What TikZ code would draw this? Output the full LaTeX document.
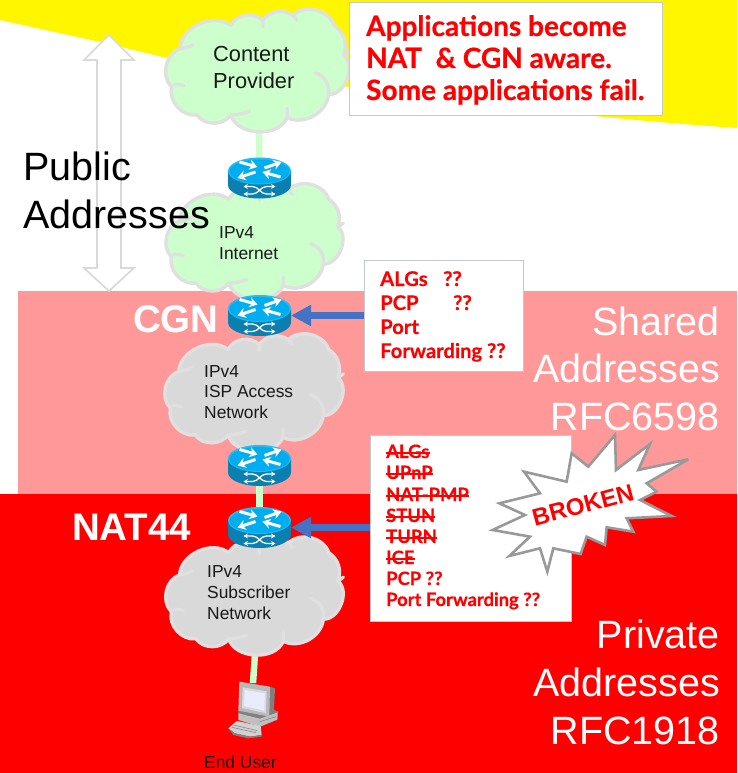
\documentclass[tikz,border=0pt]{standalone}
\usepackage{fontspec}
\setmainfont{Liberation Sans}
\newfontfamily\gill{Lato Bold}[FakeBold=0.6]
\usetikzlibrary{arrows.meta}
\definecolor{pinkband}{HTML}{FF9999}
\definecolor{redband}{HTML}{FF0000}
\definecolor{sunny}{HTML}{FFF600}
\definecolor{cloudgreen}{HTML}{CCFFCC}
\definecolor{cloudgrey}{HTML}{D9D9D9}
\definecolor{cloudedge}{HTML}{E0E0E0}
\definecolor{boxedge}{HTML}{C4C8CC}
\definecolor{arrowblue}{HTML}{4472C4}
\definecolor{routertop}{HTML}{00AEEF}
\definecolor{routerside}{HTML}{0A7FB0}
\tikzset{
  big/.style={font=\fontsize{39.5}{39.5}\selectfont,anchor=base west,inner sep=0pt},
  bigw/.style={font=\fontsize{39.5}{39.5}\selectfont,anchor=base east,inner sep=0pt,text=white},
  bold38/.style={font=\fontsize{38.5}{38.5}\selectfont\bfseries,anchor=base west,inner sep=0pt,text=white},
  lab/.style={font=\fontsize{17.4}{17.4}\selectfont,anchor=base west,inner sep=0pt,text=black!90},
  labbig/.style={font=\fontsize{21.8}{21.8}\selectfont,anchor=base west,inner sep=0pt,text=black!90},
  headtxt/.style={font=\gill\fontsize{28}{28}\selectfont,anchor=base west,inner sep=0pt,text=red},
  algtxt/.style={font=\gill\fontsize{20.2}{20.2}\selectfont,anchor=base west,inner sep=0pt,text=red},
  brktxt/.style={font=\gill\fontsize{18.4}{18.4}\selectfont,anchor=base west,inner sep=0pt,text=red},
  whitebox/.style={draw=boxedge,fill=white,line width=1.3pt},
  link/.style={cloudgreen,line width=6.5pt},
  pointer/.style={arrowblue,line width=6.5pt,-{Triangle[length=20pt,width=20pt]},shorten >=0pt},
  strike/.style={red,line width=1.2pt}
}
% cloud: left, top, width, height, fill
\newcommand{\mycloud}[5]{%
\begin{scope}[shift={(#1,#2)},x=#3pt,y=-#4pt]
 \draw[fill=#5,draw=cloudedge,line width=3.4pt,line join=round]
   (.08,.34) to[bend left=62] (.35,.16) to[bend left=55] (.52,.12) to[bend left=45] (.68,.08)
   to[bend left=58] (.90,.16) to[bend left=38] (.95,.39) to[bend left=72] (.87,.70)
   to[bend left=55] (.65,.88) to[bend left=70] (.35,.86) to[bend left=55] (.17,.86)
   to[bend left=55] (.035,.64) to[bend left=58] cycle;
 \draw[draw=cloudedge,line width=3.4pt,line cap=round]
   (.08,.34) to[bend right=10] (.15,.31)
   (.05,.62) to[bend left=10] (.10,.63)
   (.80,.53) to[bend left=40] (.87,.70)
   (.35,.86) to[bend right=8] (.45,.83)
   (.65,.88) -- (.65,.81)
   (.52,.12) -- (.52,.17)
   (.68,.08) -- (.70,.12)
   (.95,.39) -- (.98,.36);
\end{scope}}
% router centred on a named coordinate
\newcommand{\myrouter}[1]{%
\begin{scope}[shift={(#1)}]
 \fill[routerside] (-31.5,-7) -- (-31.5,7) arc[start angle=180,end angle=360,x radius=31.5,y radius=-13.5] -- (31.5,-7) -- cycle;
 \fill[routertop!85!white] (0,-7) ellipse[x radius=31.5,y radius=13.5];
 \fill[routertop] (0,-6.5) ellipse[x radius=30,y radius=12];
 \begin{scope}[white,line width=3pt,-{Stealth[length=8pt,width=10pt]}]
  \draw (-20,-16) -- (-2,-11);
  \draw (5,-10) -- (22,-16);
  \draw (-4,-6) -- (-22,0);
  \draw (21,-1) -- (3,-6);
 \end{scope}
 \begin{scope}[white,line width=1.3pt,{Stealth[length=4.5pt,width=5pt]}-{Stealth[length=4.5pt,width=5pt]}]
  \draw (-16,8.5) -- (-7,8.5) to[out=0,in=180] (7,16) -- (16,16);
  \draw (-16,16) -- (-7,16) to[out=0,in=180] (7,8.5) -- (16,8.5);
 \end{scope}
\end{scope}}
\begin{document}
\begin{tikzpicture}[x=1pt,y=-1pt]
\useasboundingbox (0,0) rectangle (737,773);
% backgrounds
\fill[white] (0,0) rectangle (737,773);
\fill[sunny] (0,0) -- (737,0) -- (737,128) .. controls (560,116) and (330,88) .. (167,58) -- (100,42) -- (0,20) -- cycle;
\fill[pinkband] (18,291) rectangle (737,494);
\fill[redband] (0,494) rectangle (737,773);
% anchors
\coordinate (rA) at (259.5,178);
\coordinate (rB) at (259.5,315.5);
\coordinate (rC) at (259.5,465.5);
\coordinate (rD) at (259.5,527.5);
\coordinate (contentfoot) at (259,130);
\coordinate (subfoot) at (255,654);
\coordinate (pctop) at (253,683);
% double arrow
\draw[draw=cloudgrey,fill=white,line width=1.7pt,line join=miter]
  (109,35) -- (134,60) -- (121,60) -- (121,268) -- (134,268) -- (109,291) -- (84,268) -- (97,268) -- (97,60) -- (84,60) -- cycle;
% links
\draw[link] (contentfoot) -- (rA);
\draw[link] (rC) -- (rD);
\draw[link] (subfoot) -- (pctop);
% clouds
\mycloud{165}{5}{188}{128}{cloudgreen}
\mycloud{165}{180}{182}{120}{cloudgreen}
\mycloud{164}{330}{183}{122}{cloudgrey}
\mycloud{165}{533}{182}{123}{cloudgrey}
% routers
\myrouter{rA}
\myrouter{rB}
\myrouter{rC}
\myrouter{rD}
% boxes
\node[whitebox,minimum width=313pt,minimum height=113pt,anchor=north west,inner sep=0pt] (boxA) at (349,2) {};
\node[whitebox,minimum width=159pt,minimum height=111pt,anchor=north west,inner sep=0pt] (boxB) at (364,260) {};
\node[whitebox,minimum width=201pt,minimum height=186pt,anchor=north west,inner sep=0pt] (boxC) at (370,435) {};
% pointers
\draw[pointer] (boxB.west |- rB) -- (291,315.5);
\draw[pointer] (boxC.west |- rD) -- (291,527.5);
% burst
\draw[draw=black!40,fill=white,line width=2.6pt,line join=miter,miter limit=6,shift={(340,420)},x=0.3333pt,y=-0.3333pt]
 (825,45) -- (828,150) -- (930,72) -- (895,150) -- (1045,118) -- (920,190) -- (950,215) -- (900,240) -- (995,288)
 -- (860,295) -- (880,335) -- (800,322) -- (795,375) -- (740,350) -- (722,402) -- (640,385) -- (622,455)
 -- (600,385) -- (508,408) -- (570,350) -- (458,330) -- (555,285) -- (478,250) -- (600,220) -- (552,155)
 -- (680,185) -- (695,100) -- (745,140) -- cycle;
\node[font=\fontsize{24}{24}\selectfont\bfseries,text=red,rotate=15,inner sep=0pt] (brokenlbl) at (583,505) {BROKEN};
% box texts
\node[headtxt] (h1) at (366,36) {Applications become};
\node[headtxt] (h2) at (366,68) {NAT\ \ \& CGN aware.};
\node[headtxt] (h3) at (366,100) {Some applications fail.};
\node[algtxt] (a1) at (380,286) {ALGs};
\node[algtxt] (a1b) at (443,286) {??};
\node[algtxt] (a2) at (380,310) {PCP};
\node[algtxt] (a2b) at (453,310) {??};
\node[algtxt] (a3) at (380,334) {Port};
\node[algtxt] (a4) at (380,358) {Forwarding ??};
\node[brktxt] (b1) at (386,458) {ALGs};
\node[brktxt] (b2) at (386,479) {UPnP};
\node[brktxt] (b3) at (386,501) {NAT-PMP};
\node[brktxt] (b4) at (386,522) {STUN};
\node[brktxt] (b5) at (386,543) {TURN};
\node[brktxt] (b6) at (386,564) {ICE};
\node[brktxt] (b7) at (386,585) {PCP ??};
\node[brktxt] (b8) at (386,606) {Port Forwarding ??};
\foreach \n in {b1,b2,b3,b4,b5,b6}
  \draw[strike] ([yshift=5pt]\n.base west) -- ([yshift=5pt]\n.base east);
% zone labels
\node[big] (pub1) at (23,180.5) {Public};
\node[big] (pub2) at (23,228.5) {Addresses};
\node[bigw] (sh1) at (720,335) {Shared};
\node[bigw] (sh2) at (720,382.5) {Addresses};
\node[bigw] (sh3) at (720,430) {RFC6598};
\node[bigw] (pr1) at (720,648) {Private};
\node[bigw] (pr2) at (720,696) {Addresses};
\node[bigw] (pr3) at (720,744) {RFC1918};
\node[bold38] (cgn) at (133,332) {CGN};
\node[bold38] (nat) at (72,540) {NAT44};
% cloud labels
\node[labbig] (cp1) at (213,62) {Content};
\node[labbig] (cp2) at (213,89) {Provider};
\node[lab] (i1) at (219,238) {IPv4};
\node[lab] (i2) at (219,259) {Internet};
\node[lab] (s1) at (204,377) {IPv4};
\node[lab] (s2) at (204,397) {ISP Access};
\node[lab] (s3) at (204,418) {Network};
\node[lab] (u1) at (207,577) {IPv4};
\node[lab] (u2) at (207,598) {Subscriber};
\node[lab] (u3) at (207,619) {Network};
% computer
\begin{scope}[shift={(170,620)},x=0.3333pt,y=-0.3333pt,line join=round]
 \fill[black!50] (300,200) -- (315,205) -- (312,270) -- (325,275) -- (322,300) -- (270,320) -- (205,285) -- (205,270) -- cycle;
 \fill[black!28] (208,185) -- (300,200) -- (298,290) -- (205,272) -- cycle;
 \fill[black!15] (218,202) -- (290,214) -- (288,280) -- (216,264) -- cycle;
 \fill[blue!8!white] (224,210) -- (285,220) -- (283,272) -- (222,258) -- cycle;
 \fill[black!25] (205,280) -- (270,296) -- (322,278) -- (322,298) -- (270,320) -- (205,300) -- cycle;
 \fill[black!18] (200,303) -- (272,318) -- (275,345) -- (240,350) -- (195,340) -- (175,325) -- cycle;
 \fill[black!50] (175,325) -- (195,340) -- (240,350) -- (275,345) -- (275,350) -- (235,355) -- (190,345) -- cycle;
 \draw[black!50,line width=.5pt] (190,315) -- (262,332) (186,322) -- (258,338) (270,305) -- (318,290);
\end{scope}
\node[lab] (eu) at (204,768) {End User};
\end{tikzpicture}
\end{document}
